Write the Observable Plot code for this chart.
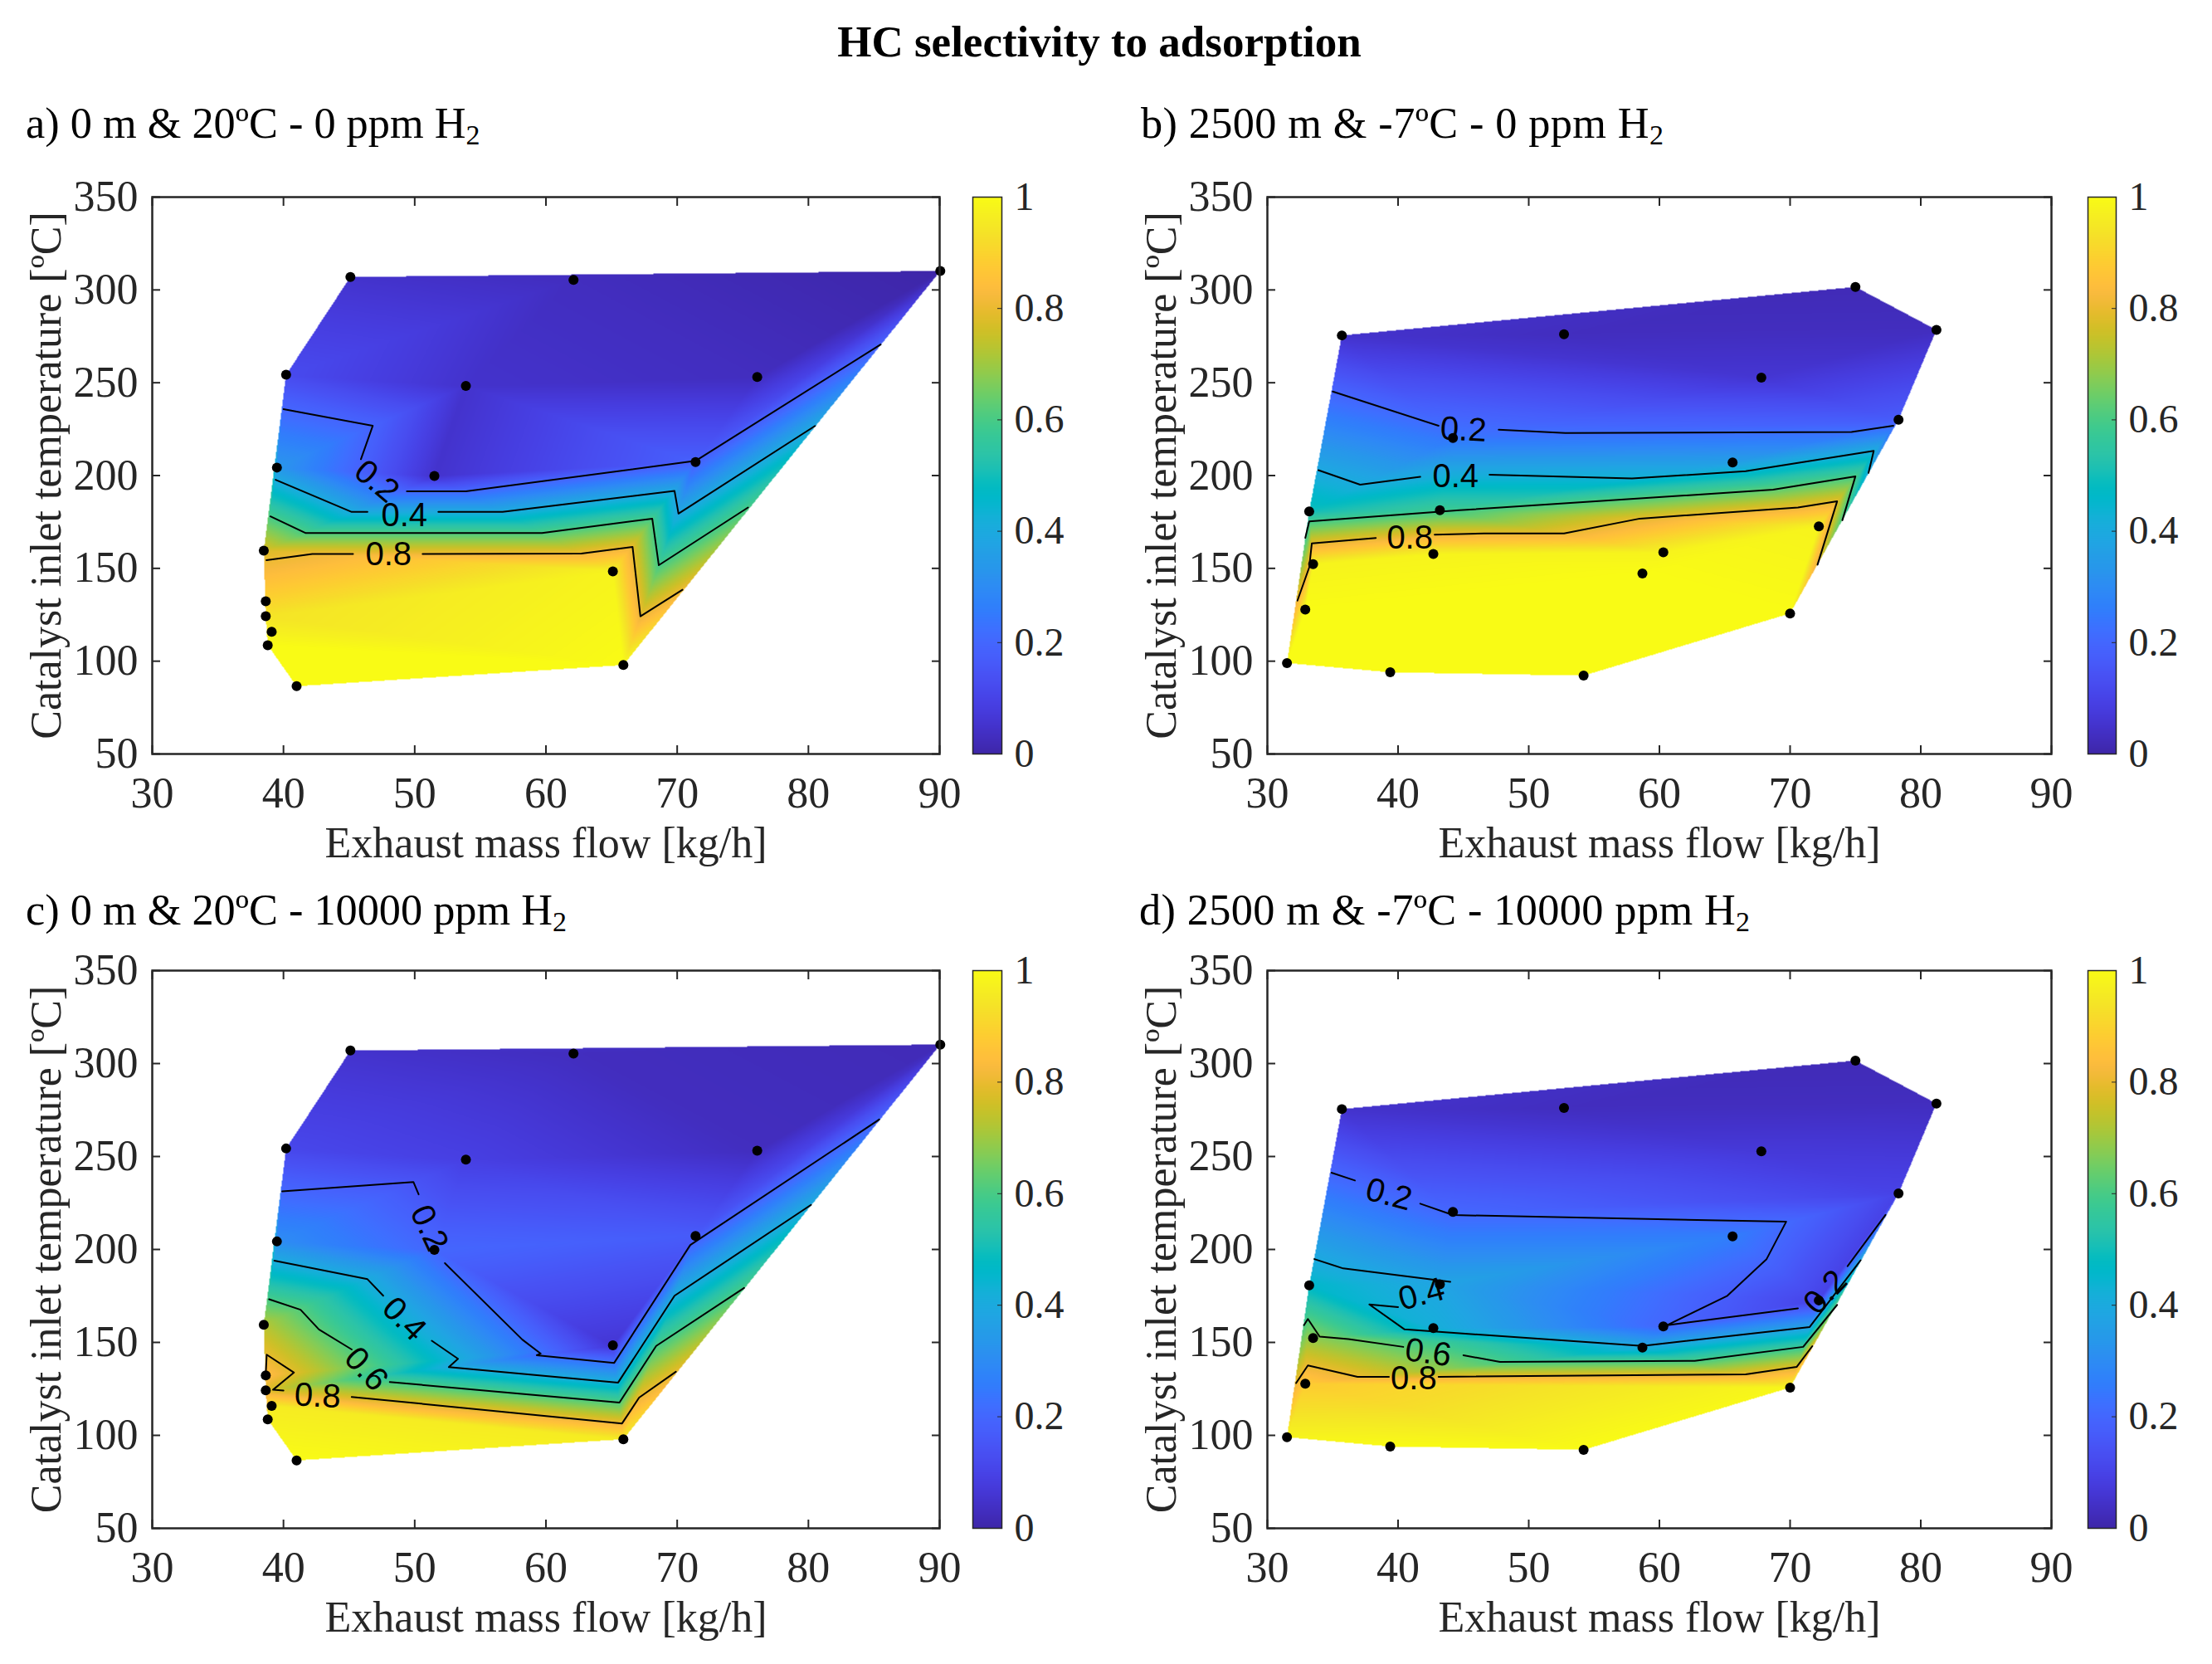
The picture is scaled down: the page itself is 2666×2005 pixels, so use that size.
<!DOCTYPE html>
<html>
<head>
<meta charset="utf-8">
<script src="https://cdn.jsdelivr.net/npm/d3@7"></script>
<script src="https://cdn.jsdelivr.net/npm/@observablehq/plot@0.6"></script>
<style>
  html,body{margin:0;padding:0;background:#fff;}
  #page{position:relative;width:2666px;height:2005px;overflow:hidden;background:#fff;font-family:"Liberation Serif",serif;color:#000;}
  .t{position:absolute;white-space:nowrap;line-height:1;}
  .title{font-weight:700;font-size:53px;left:-8px;width:2666px;text-align:center;top:24px;}
  .sub{font-size:52.3px;}
  .wide{letter-spacing:.38px;}
  .sub sub{font-size:34px;line-height:0;vertical-align:-8px;}
</style>
</head>
<body>
<div id="page"></div>
<script>
const parula = [[.2422,.1504,.6603],[.2504,.1650,.7076],[.2578,.1818,.7511],[.2647,.1978,.7952],[.2706,.2147,.8364],[.2751,.2342,.8710],[.2783,.2559,.8991],[.2803,.2782,.9221],[.2813,.3006,.9414],[.2810,.3228,.9579],[.2795,.3447,.9717],[.2760,.3667,.9829],[.2699,.3892,.9906],[.2602,.4123,.9952],[.2440,.4358,.9988],[.2206,.4603,.9973],[.1963,.4847,.9892],[.1834,.5074,.9798],[.1786,.5289,.9682],[.1764,.5499,.9520],[.1687,.5703,.9359],[.1540,.5902,.9218],[.1460,.6091,.9079],[.1380,.6276,.8973],[.1248,.6459,.8883],[.1113,.6635,.8763],[.0952,.6798,.8598],[.0689,.6948,.8394],[.0297,.7082,.8163],[.0036,.7203,.7917],[.0067,.7312,.7660],[.0433,.7411,.7394],[.0964,.7500,.7120],[.1408,.7584,.6842],[.1717,.7670,.6554],[.1938,.7758,.6251],[.2161,.7843,.5923],[.2470,.7918,.5567],[.2906,.7973,.5188],[.3406,.8008,.4789],[.3909,.8029,.4354],[.4456,.8024,.3909],[.5044,.7993,.3480],[.5616,.7942,.3045],[.6174,.7876,.2612],[.6720,.7793,.2227],[.7242,.7698,.1910],[.7738,.7598,.1646],[.8203,.7498,.1535],[.8634,.7406,.1596],[.9035,.7330,.1774],[.9393,.7288,.2100],[.9728,.7298,.2394],[.9956,.7434,.2371],[.9970,.7659,.2199],[.9952,.7893,.2028],[.9892,.8136,.1885],[.9786,.8386,.1766],[.9676,.8639,.1643],[.9610,.8890,.1537],[.9597,.9135,.1423],[.9628,.9373,.1265],[.9691,.9606,.1064],[.9769,.9839,.0805]];

const xTicks = [30,40,50,60,70,80,90];
const yTicks = [50,100,150,200,250,300,350];
const cTicks = [0,0.2,0.4,0.6,0.8,1];

// Sea-level engine-map points (panels a and c)
const flowSea = [45.1,62.1,90.05,40.2,53.9,76.1,39.5,51.5,71.4,38.5,65.1,38.65,38.65,39.1,38.8,41,65.9];
const tempSea = [307,305.4,310.2,254.3,248.3,253.1,204.3,199.8,207.3,159.5,148.4,132.3,124.2,115.8,108.6,86.5,97.9];
const valuesA = [.05,.03,0,.12,.05,.03,.336,.05,.18,.78,.98,.9,.94,.97,1,1,1];
const valuesC = [.05,.03,.02,.11,.09,.03,.304,.2,.167,.727,.06,.85,.78,.96,.97,1,.96];

// Altitude engine-map points (panels b and d)
const flowAlt = [75,81.2,35.7,52.7,67.8,78.3,44.2,65.6,33.2,43.2,72.2,42.7,60.3,58.7,33.5,32.9,70,31.5,39.4,54.2];
const tempAlt = [301.6,278.5,275.5,276.1,252.8,230.1,220.2,207,180.7,181.3,172.6,157.7,158.6,147.2,152.3,127.8,125.7,99,94,92.2];
const valuesB = [.02,.03,.05,.03,.06,.17,.24,.36,.5,.58,.98,.98,.98,1,.98,1,1,1,1,1];
const valuesD = [.02,.03,.05,.03,.07,.1,.2,.26,.46,.38,.1,.42,.2,.4,.68,.88,.99,.98,1,1];

// Contour lines, broken where MATLAB put the inline labels
const contoursA = [
  [[40,235.8],[46.8,226.8],[45.9,208.8]],
  [[49.4,191.5],[53.9,191.5],[71.4,207.9],[85.5,270.6]],
  [[39.4,197.7],[45.2,180.4],[46.4,180.4]],
  [[51.8,180.4],[56.7,180.4],[69.8,191.7],[70.1,179.5],[80.5,226.7]],
  [[39,178],[41.7,169],[59.7,169],[68.1,176.8],[68.6,151.7],[75.4,182.8]],
  [[38.7,154.4],[42.2,157.7],[45.3,157.7]],
  [[50.6,157.7],[62.7,158],[66.6,161.6],[67.2,124.2],[70.4,138.5]]
];
const contoursB = [
  [[35,245.3],[43.1,226.8]],
  [[47.7,224.7],[52.8,222.9],[74.7,223.5],[77.9,226.8]],
  [[33.9,202.9],[37.1,195.1],[41.7,199.3]],
  [[47,200.5],[57.9,198.4],[66.6,202.3],[76.4,213.3],[76,201.4]],
  [[32.9,166.4],[33.2,175.3],[44.7,181.3],[68.7,192.4],[75,199.6],[74,175.9]],
  [[32.3,132.6],[33.2,150.5],[33.4,163.4],[38.3,166.4]],
  [[42.8,168.2],[46.6,168.8],[52.7,168.8],[58.5,176.8],[70.6,182.8],[73.6,186.1],[72.1,152]]
];
const contoursC = [
  [[39.9,231.3],[49.9,236.3],[50.3,229.6]],
  [[52.3,192.6],[58.2,151.5],[59.6,144],[59.3,143.1],[65.2,139],[71,202.4],[85.4,269.9]],
  [[39.3,194],[46.4,184],[47.6,175.1]],
  [[51.3,150.9],[53.3,141.2],[52.6,136.7],[65.5,128.4],[69.8,175.1],[80.2,224]],
  [[38.9,173.2],[41.3,167.6],[42.7,157],[45.2,146.2]],
  [[48.1,128.7],[65.6,117.6],[68.4,148.1],[75.1,179.3]],
  [[38.65,133],[38.72,143.4],[40.8,133.8],[39.2,124.5],[40,124.1]],
  [[45.2,120.7],[65.8,106.4],[67.1,120.3],[69.9,134.2]]
];
const contoursD = [
  [[34.9,241.3],[36.7,237.1]],
  [[41.7,224.6],[44.2,218.5],[69.7,214.9],[68.2,194.8],[65.2,175.1],[60.6,159.3],[70.6,168.3]],
  [[77.3,218.6],[74.4,191]],
  [[33.6,194.8],[35.8,189.8],[44,182.6]],
  [[40,169],[37.8,170.4],[40.5,157],[58.7,148.1],[71.5,158.3],[75.4,194.2]],
  [[32.8,159.3],[33.1,162.6],[34,153.1],[36.2,151.8],[40.4,147.6]],
  [[45,143.1],[47.8,139.5],[62.7,140.1],[71,147.6],[73.6,170.2]],
  [[32.2,128.1],[33.1,137.6],[36.9,131.5],[39.3,131.5]],
  [[43.1,131.5],[66.6,132.8],[70.5,136.8],[71.7,148]]
];

// Inline contour labels
const labelsA = [{t:"0.2",x:47.1,y:196.9,r:40},{t:"0.4",x:49.2,y:178.5,r:0},{t:"0.8",x:48,y:157.4,r:0}];
const labelsB = [{t:"0.2",x:45,y:224.7,r:3},{t:"0.4",x:44.4,y:199.3,r:0},{t:"0.8",x:40.9,y:166.4,r:0}];
const labelsC = [{t:"0.2",x:51.1,y:211.5,r:65},{t:"0.4",x:49.2,y:162.6,r:45},{t:"0.6",x:46.3,y:135.6,r:47},{t:"0.8",x:42.6,y:121.2,r:3}];
const labelsD = [{t:"0.2",x:39.3,y:229.6,r:15},{t:"0.4",x:41.8,y:175.9,r:-15},{t:"0.6",x:42.3,y:144.5,r:8},{t:"0.8",x:41.2,y:130.6,r:0},{t:"0.2",x:72.7,y:177,r:-47}];

const titleText = "HC selectivity to adsorption";
const xLabel = "Exhaust mass flow [kg/h]";
const yLabel = "Catalyst inlet temperature [ºC]";

const page = document.getElementById("page");
const ink = "#262626";
const parulaRamp = d3.piecewise(d3.interpolateRgb, parula.map(c => `rgb(${c.map(v => Math.round(v*255)).join(",")})`));
const colorScale = {type:"linear", domain:[0,1], interpolate:t => parulaRamp(t), clamp:true};
const baseStyle = {fontFamily:'"Liberation Serif",serif', fontSize:"52px", color:ink, background:"transparent", overflow:"visible"};

// Linear interpolation over the Delaunay triangulation of the measured points (griddata 'linear')
function tin(X, Y, V) {
  const d = d3.Delaunay.from(X.map((x,i) => [x, Y[i]]));
  const tr = Array.from(d.triangles);
  let last = 0;
  const test = (k, x, y) => {
    const a = tr[k], b = tr[k+1], c = tr[k+2];
    const den = (Y[b]-Y[c])*(X[a]-X[c]) + (X[c]-X[b])*(Y[a]-Y[c]);
    const l1 = ((Y[b]-Y[c])*(x-X[c]) + (X[c]-X[b])*(y-Y[c]))/den;
    const l2 = ((Y[c]-Y[a])*(x-X[c]) + (X[a]-X[c])*(y-Y[c]))/den;
    const l3 = 1-l1-l2;
    if (l1 < -1e-9 || l2 < -1e-9 || l3 < -1e-9) return NaN;
    return l1*V[a] + l2*V[b] + l3*V[c];
  };
  return (x, y) => {
    let v = test(last, x, y);
    if (v === v) return v;
    for (let k = 0; k < tr.length; k += 3) {
      v = test(k, x, y);
      if (v === v) { last = k; return v; }
    }
    return NaN;
  };
}

function place(svg, left, top) {
  svg.style.position = "absolute";
  svg.style.left = left + "px";
  svg.style.top = top + "px";
  page.appendChild(svg);
}

function panel({X, Y, V, contours, labels, fl, fr, ft, fb, cl, cr}) {
  const mL = 175, mR = 30, mT = 40, mB = 150;
  const pieces = contours.flatMap((p, i) => p.map(([x, y]) => ({x, y, i})));
  const pts = X.map((x, i) => ({x, y: Y[i]}));
  const chart = Plot.plot({
    width: fr - fl + mL + mR, height: fb - ft + mT + mB,
    marginLeft: mL, marginRight: mR, marginTop: mT, marginBottom: mB,
    style: baseStyle,
    x: {domain: [30, 90]}, y: {domain: [50, 350]},
    color: colorScale,
    marks: [
      Plot.raster({fill: tin(X, Y, V), x1: 30, x2: 90, y1: 50, y2: 350, pixelSize: 1}),
      Plot.line(pieces, {x: "x", y: "y", z: "i", stroke: "#000", strokeWidth: 2, curve: "linear"}),
      Plot.text(labels, {x: "x", y: "y", text: "t", rotate: "r", fontSize: 40, fontFamily: '"Liberation Sans",sans-serif', fill: "#000"}),
      Plot.dot(pts, {x: "x", y: "y", r: 6, fill: "#000"}),
      Plot.frame({stroke: ink, strokeWidth: 2.5}),
      Plot.axisX({ticks: xTicks, tickSize: -10, tickPadding: 38, tickFormat: d => d, strokeWidth: 2,
        label: xLabel, labelAnchor: "center", labelArrow: "none", labelOffset: 124}),
      Plot.axisY({ticks: yTicks, tickSize: -10, tickPadding: 27, tickFormat: d => d, strokeWidth: 2,
        label: yLabel, labelAnchor: "center", labelArrow: "none", labelOffset: 147}),
      Plot.axisX({anchor: "top", ticks: xTicks, tickSize: -10, tickFormat: () => "", strokeWidth: 2, label: null}),
      Plot.axisY({anchor: "right", ticks: yTicks, tickSize: -10, tickFormat: () => "", strokeWidth: 2, label: null})
    ]
  });
  place(chart, fl - mL, ft - mT);

  const bar = Plot.plot({
    width: cr - cl + 90, height: fb - ft + 40,
    marginLeft: 0, marginRight: 90, marginTop: 20, marginBottom: 20,
    style: {...baseStyle, fontSize: "48px"},
    x: {domain: [0, 1], axis: null}, y: {domain: [0, 1]},
    color: colorScale,
    marks: [
      Plot.raster({fill: (x, y) => y, x1: 0, x2: 1, y1: 0, y2: 1, pixelSize: 1}),
      Plot.frame({stroke: ink, strokeWidth: 1.5}),
      Plot.axisY({anchor: "right", ticks: cTicks, tickSize: -6, tickPadding: 21, tickFormat: d => String(d), label: null})
    ]
  });
  place(bar, cl, ft - 20);
}

function text(cls, html, left, top) {
  const el = document.createElement("div");
  el.className = "t " + cls;
  el.innerHTML = html;
  if (left != null) el.style.left = left + "px";
  if (top != null) el.style.top = top + "px";
  page.appendChild(el);
}

text("title", titleText);
text("sub", "a) 0 m &amp; 20ºC - 0 ppm H<sub>2</sub>", 31, 122);
text("sub wide", "b) 2500 m &amp; -7ºC - 0 ppm H<sub>2</sub>", 1375, 122);
text("sub", "c) 0 m &amp; 20ºC - 10000 ppm H<sub>2</sub>", 31, 1070);
text("sub wide", "d) 2500 m &amp; -7ºC - 10000 ppm H<sub>2</sub>", 1373, 1070);

panel({X: flowSea, Y: tempSea, V: valuesA, contours: contoursA, labels: labelsA, fl: 183, fr: 1132, ft: 237, fb: 908, cl: 1172, cr: 1207});
panel({X: flowAlt, Y: tempAlt, V: valuesB, contours: contoursB, labels: labelsB, fl: 1527, fr: 2472, ft: 237, fb: 908, cl: 2516, cr: 2550});
panel({X: flowSea, Y: tempSea, V: valuesC, contours: contoursC, labels: labelsC, fl: 183, fr: 1132, ft: 1169, fb: 1841, cl: 1172, cr: 1207});
panel({X: flowAlt, Y: tempAlt, V: valuesD, contours: contoursD, labels: labelsD, fl: 1527, fr: 2472, ft: 1169, fb: 1841, cl: 2516, cr: 2550});
</script>
</body>
</html>
